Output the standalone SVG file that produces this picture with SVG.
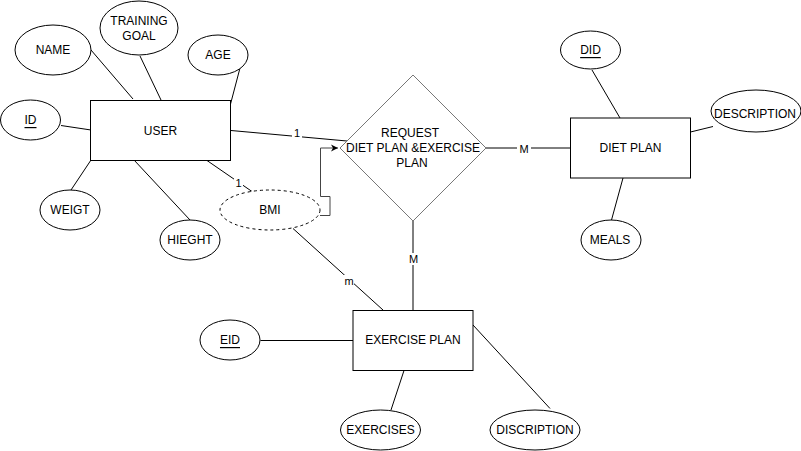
<svg xmlns="http://www.w3.org/2000/svg" width="801" height="451" viewBox="0 0 801 451">
<style>
text{font-family:"Liberation Sans",Arial,sans-serif;font-size:12px;fill:#000;text-anchor:middle;dominant-baseline:central}
.s{fill:#fff;stroke:#000;stroke-width:1}
.r{fill:#fff;stroke:#777;stroke-width:1}
.d{fill:#fff;stroke:#000;stroke-width:1;stroke-dasharray:3 3}
.c{fill:none;stroke:#000;stroke-width:1}
.g{fill:none;stroke:#444;stroke-width:1}
.lb{font-size:11px}
.u{text-decoration:underline}
</style>
<defs>
<marker id="ar" markerWidth="8" markerHeight="8" refX="7" refY="4" orient="auto" markerUnits="userSpaceOnUse">
<path d="M0,0.5 L7,4 L0,7.5 L2,4 Z" fill="#000"/>
</marker>
</defs>
<rect width="801" height="451" fill="#fff"/>
<g id="connectors">
<line class="c" x1="91" y1="50" x2="133" y2="99"/>
<line class="c" x1="140" y1="56" x2="161" y2="100"/>
<line class="c" x1="240" y1="68" x2="230" y2="106"/>
<line class="c" x1="61" y1="125.5" x2="91" y2="130"/>
<line class="c" x1="71" y1="190" x2="91" y2="160"/>
<line class="c" x1="134" y1="160" x2="190" y2="220"/>
<line class="c" x1="207" y1="160.5" x2="252" y2="191.5"/>
<line class="c" x1="231" y1="130.5" x2="347" y2="141"/>
<path class="g" d="M320,215.5 H330 V196.5 H320.5 V148 H338" marker-end="url(#ar)"/>
<line class="c" x1="293" y1="228.5" x2="383" y2="310"/>
<line class="c" x1="486" y1="148" x2="570.5" y2="148"/>
<line class="c" x1="413" y1="221" x2="413" y2="310.5"/>
<line class="c" x1="592" y1="70" x2="620" y2="118"/>
<line class="c" x1="690.5" y1="132" x2="713" y2="126.5"/>
<line class="c" x1="623" y1="178" x2="611.5" y2="220"/>
<line class="c" x1="260.5" y1="340.5" x2="353" y2="340.5"/>
<line class="c" x1="404" y1="370.5" x2="391" y2="410"/>
<line class="c" x1="473" y1="325" x2="550" y2="408.5"/>
<rect x="292" y="126" width="10" height="12" fill="#fff"/>
<text class="lb" x="297" y="132.5">1</text>
<rect x="234" y="177" width="9" height="12" fill="#fff"/>
<text class="lb" x="238.5" y="183">1</text>
<rect x="517" y="142" width="14" height="12" fill="#fff"/>
<text class="lb" x="524" y="148.5">M</text>
<rect x="407" y="253" width="13" height="12" fill="#fff"/>
<text class="lb" x="413.5" y="259">M</text>
<rect x="344" y="275" width="10" height="12" fill="#fff"/>
<text class="lb" x="349" y="280.5">m</text>
</g>
<g id="user"><rect class="s" x="90.5" y="100.5" width="140" height="60"/><text x="160.5" y="130.5">USER</text></g>
<g id="name"><ellipse class="s" cx="53" cy="50" rx="38" ry="25"/><text x="53" y="50">NAME</text></g>
<g id="training-goal"><ellipse class="s" cx="139" cy="28" rx="39" ry="27"/><text x="139" y="21">TRAINING</text><text x="139" y="36">GOAL</text></g>
<g id="age"><ellipse class="s" cx="218" cy="55" rx="30" ry="20"/><text x="218" y="55">AGE</text></g>
<g id="id"><ellipse class="s" cx="30.5" cy="120" rx="30" ry="20"/><text class="u" x="30.5" y="120">ID</text></g>
<g id="weigt"><ellipse class="s" cx="70" cy="210" rx="30" ry="20"/><text x="70" y="210">WEIGT</text></g>
<g id="hieght"><ellipse class="s" cx="190" cy="240" rx="30" ry="20"/><text x="190" y="240">HIEGHT</text></g>
<g id="bmi"><ellipse class="d" cx="270" cy="210" rx="50" ry="20"/><text x="270" y="210">BMI</text></g>
<g id="request"><polygon class="r" points="413,75 486,148 413,221 340,148"/><text x="410" y="133">REQUEST</text><text x="413" y="148">DIET PLAN &amp;EXERCISE</text><text x="412" y="163">PLAN</text></g>
<g id="diet-plan"><rect class="s" x="570.5" y="118" width="120" height="60"/><text x="630.5" y="148">DIET PLAN</text></g>
<g id="did"><ellipse class="s" cx="590.5" cy="50" rx="30" ry="19"/><text class="u" x="590.5" y="50">DID</text></g>
<g id="description"><ellipse class="s" cx="756" cy="111" rx="45" ry="21"/><text x="755" y="114">DESCRIPTION</text></g>
<g id="meals"><ellipse class="s" cx="611" cy="240" rx="30" ry="20"/><text x="610" y="240">MEALS</text></g>
<g id="exercise-plan"><rect class="s" x="353" y="310.5" width="120" height="60"/><text x="413" y="340">EXERCISE PLAN</text></g>
<g id="eid"><ellipse class="s" cx="230" cy="340" rx="30" ry="20"/><text class="u" x="230" y="340">EID</text></g>
<g id="exercises"><ellipse class="s" cx="380.5" cy="430" rx="40" ry="20"/><text x="380.5" y="430">EXERCISES</text></g>
<g id="discription"><ellipse class="s" cx="535" cy="430" rx="45" ry="20"/><text x="535" y="430">DISCRIPTION</text></g>
</svg>
